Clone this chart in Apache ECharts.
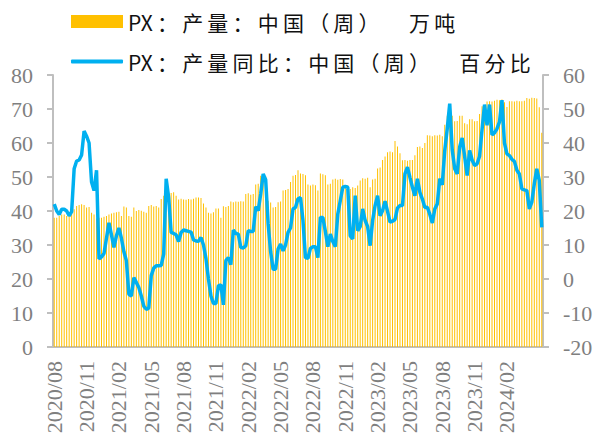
<!DOCTYPE html>
<html>
<head>
<meta charset="utf-8">
<script src="https://cdn.jsdelivr.net/npm/echarts@6/dist/echarts.min.js"></script>
<style>
html,body{margin:0;padding:0;background:#fff;}
#chart{width:598px;height:445px;}
</style>
</head>
<body>
<div id="chart"></div>
<script>
// Tick labels shown every 13 weeks
var tickLabels = ['2020/08','2020/11','2021/02','2021/05','2021/08','2021/11','2022/02','2022/05','2022/08','2022/11','2023/02','2023/05','2023/08','2023/11','2024/02'];

// Weekly categories (197 weeks starting 2020/08/07)
var categories = [];
(function(){
  var d = new Date(Date.UTC(2020, 7, 7));
  for (var i = 0; i < 197; i++) {
    var m = d.getUTCMonth() + 1, day = d.getUTCDate();
    categories.push(d.getUTCFullYear() + '/' + (m < 10 ? '0' + m : m) + '/' + (day < 10 ? '0' + day : day));
    d = new Date(d.getTime() + 7 * 86400000);
  }
})();

// PX output, China (weekly), 10k tons
var output = [
  38, 38, 38.5, 39, 39, 38.5, 39, 39.5, 40.5,
  41.5, 41.8, 42, 41.8, 41, 41.2, 39.5, 39,
  37.8, 38, 38, 38.3, 38.5,
  39, 39.3, 39.5, 39.6, 39.8, 38.5,
  41.3, 41,
  38.5, 38.3, 41,
  40, 40.3, 40.1, 39.8, 39.5,
  41.5, 41.8, 41.3, 41.5, 41,
  43.5, 44.5,
  45.5, 45.5, 45.3, 45.5, 44.5,
  43.4, 43.6, 43.4, 43.3, 43.5, 43.4, 43.6,
  44, 44, 43.8,
  42.2, 41,
  39.5, 39.3, 39.6,
  40.7, 40.7,
  38,
  41.4, 41.2, 41.5,
  42.8, 42.6, 42.8, 42.7, 42.9, 42.8,
  45, 45.2, 44.8, 45,
  47.8, 48,
  50.4, 50.8, 50.2,
  43, 42.5,
  41, 41.2,
  42.6, 42.8,
  46, 46.2, 46.5,
  48.5, 50.4, 50.6,
  52, 51, 50.9, 50.5,
  47.8, 47.5, 47.8, 47.6,
  46,
  51, 50.8, 50.5,
  47.8, 48,
  49.3, 49.5, 49.2, 49.4, 49.3,
  47.5, 47.6, 46.5, 47, 46.8, 47.5, 49,
  49.6, 49.5, 49.8,
  47,
  49.3, 49.5,
  52.5, 52.8,
  55, 56,
  57.3, 57.5, 57.3,
  60.6,
  59, 57,
  54.9, 55, 54.8, 55, 55,
  56.4,
  58.8, 59, 58.5,
  60,
  62.3,
  62.2, 62, 62.3, 62.2, 62.4, 62,
  65.4,
  68, 68.3, 68,
  66.4, 66.5,
  68, 68,
  65.8, 65.5,
  67, 67,
  66.4, 66.5,
  68.5,
  70.8, 71,
  72.2, 72.3, 72.2, 72.4,
  72.7, 72.6, 72.8,
  72,
  70.6,
  72.3, 72.3, 72.2, 72.4, 72.3, 72.3, 72.4,
  73.2, 73, 73.3, 73.2, 73.1,
  70.5,
  63
];

// PX output YoY, China (weekly), %
var yoy = [
  22, 20, 19, 20.5, 20.5, 20, 18.6, 19.8, 32.4, 34.7,
  35, 36.5, 43.5, 42, 40, 28.5, 26, 32, 5.9, 6.5,
  7.5, 12, 16.5, 13, 9.3, 12.7, 15, 12, 8, 5.4,
  -4.5, -5, 0.4, -1, -2.5, -5, -8, -8.9, -8.6, 1,
  3.2, 3.9, 3.9, 4, 7.3, 29.5, 24, 13.7, 13.4, 13,
  11, 13.7, 14.4, 14.2, 14, 13.8, 11.5, 11.2, 11.1, 12.2,
  10, 6, 0, -5, -7.2, -7.2, -2, -1.7, -7.6, 5.4,
  6.3, 4.2, 14.4, 13.4, 13.2, 9.3, 9.1, 9.8, 14.2, 14,
  14, 21.3, 20.1, 25, 30.9, 29.2, 16.2, 8, 2.9, 2.9,
  8.8, 10.3, 8.3, 10, 13.7, 15, 20.6, 21.1, 23.6, 23.9,
  17.2, 6.3, 6.1, 9, 9.5, 9.5, 6.3, 18.1, 18.1, 14,
  9.5, 13.2, 11, 9.5, 19.1, 23, 27, 27.2, 27, 12.7,
  11.8, 24.5, 14.2, 15.4, 20.6, 17.2, 15.4, 9.8, 17.2, 21.6,
  24.5, 18.6, 20.1, 22.9, 19.9, 16.7, 17, 17.5, 20.9, 21.6,
  21.6, 30.9, 32.9, 29.9, 27, 24.5, 29.5, 25.5, 23.5, 21,
  21.1, 19, 16.5, 20.6, 22.1, 29.5, 27.7, 37.8, 44.2, 51.6,
  38, 32.4, 30.9, 38.8, 41.5, 36, 30.4, 37.8, 35, 33.4,
  33.9, 36.1, 44, 51.3, 45.2, 51.3, 42.4, 43, 44.2, 46.2,
  52.6, 40, 36.8, 36.3, 35.2, 34.6, 32, 30.9, 26.5, 26.2,
  26, 20.6, 22.6, 28, 32.4, 29, 15.2
];

var seriesNames = ['PX：产量：中国（周）　万吨', 'PX：产量同比：中国（周）　百分比'];

var chart = echarts.init(document.getElementById('chart'), null, {renderer: 'svg'});
var axisColor = '#BFBFBF';
var labelColor = '#7F7F7F';
var serif = 'Liberation Serif, DejaVu Serif, serif';

function spaced(name) {
  return name.slice(0, 2) + '\u2009' + name.slice(2).split('').join('\u2009');
}
var legendText = {
  fontFamily: 'Noto Sans CJK SC',
  fontSize: 21,
  color: '#111'
};
var axisLabelStyle = {
  color: labelColor,
  fontFamily: serif,
  fontSize: 22
};

chart.setOption({
  animation: false,
  backgroundColor: '#ffffff',
  legend: [
    {
      left: 66, top: 6, padding: 5,
      itemWidth: 52, itemHeight: 13,
      textStyle: legendText,
      formatter: spaced,
      data: [{name: seriesNames[0], icon: 'rect'}]
    },
    {
      left: 66, top: 46, padding: 5,
      itemWidth: 52, itemHeight: 4,
      textStyle: legendText,
      formatter: spaced,
      data: [{name: seriesNames[1], icon: 'roundRect'}]
    }
  ],
  grid: {left: 53, right: 55, top: 75, bottom: 98},
  xAxis: {
    type: 'category',
    data: categories,
    boundaryGap: true,
    axisLine: {lineStyle: {color: axisColor, width: 2}},
    axisTick: {interval: 12, length: 6, lineStyle: {color: axisColor, width: 2}},
    axisLabel: Object.assign({
      interval: 12,
      rotate: 90,
      margin: 14,
      formatter: function (v, i) { return tickLabels[Math.round(i / 13)] || ''; }
    }, axisLabelStyle),
    splitLine: {show: false}
  },
  yAxis: [
    {
      type: 'value', min: 0, max: 80, interval: 10, position: 'left',
      axisLine: {show: true, lineStyle: {color: axisColor, width: 2}},
      axisTick: {show: true, length: 6, lineStyle: {color: axisColor, width: 2}},
      axisLabel: Object.assign({margin: 20}, axisLabelStyle),
      splitLine: {show: false}
    },
    {
      type: 'value', min: -20, max: 60, interval: 10, position: 'right',
      axisLine: {show: true, lineStyle: {color: axisColor, width: 2}},
      axisTick: {show: true, length: 6, lineStyle: {color: axisColor, width: 2}},
      axisLabel: Object.assign({margin: 20}, axisLabelStyle),
      splitLine: {show: false}
    }
  ],
  series: [
    {
      name: seriesNames[0],
      type: 'bar',
      yAxisIndex: 0,
      data: output,
      barWidth: 1,
      itemStyle: {color: '#FFC000'}
    },
    {
      name: seriesNames[1],
      type: 'line',
      yAxisIndex: 1,
      data: yoy,
      symbol: 'none',
      showSymbol: false,
      lineStyle: {color: '#00B0F0', width: 3.5},
      itemStyle: {color: '#00B0F0'}
    }
  ]
});
</script>
</body>
</html>
